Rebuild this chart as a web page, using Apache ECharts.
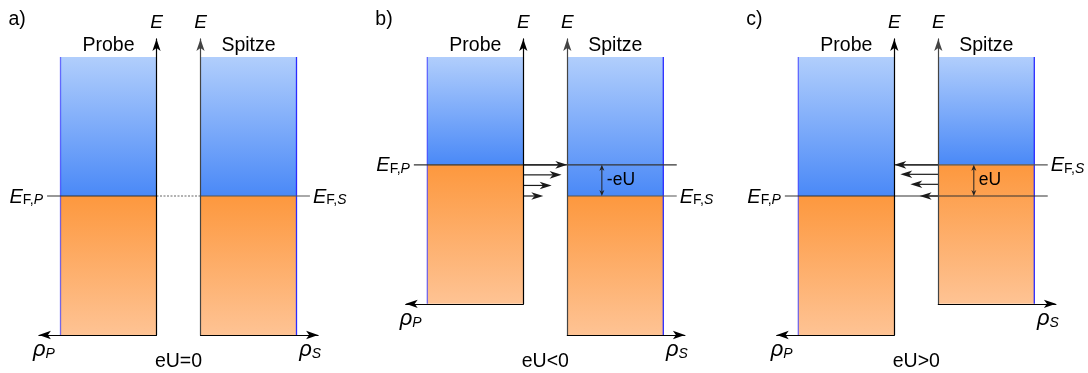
<!DOCTYPE html>
<html><head><meta charset="utf-8">
<script src="https://cdn.jsdelivr.net/npm/echarts@6/dist/echarts.min.js"></script>
<style>html,body{margin:0;padding:0;background:#fff}#c{width:1088px;height:373px}</style>
</head><body><div id="c"></div><script>
// ---------------- data ----------------
const panelLabels = ['a)', 'b)', 'c)'];
const biasCaptions = ['eU=0', 'eU<0', 'eU>0'];
const sideTitles = ['Probe', 'Spitze'];
const fermiProbe = [5, 6.12, 5];          // E_F of sample (Probe)
const fermiTip = [5, 5, 6.12];            // E_F of tip (Spitze)
const bandDepth = 5;                      // occupied states below E_F
const bandTop = 10;                       // upper end of drawn band
const energyMax = 10.65;                  // end of E axes
const densityOfStates = 1;                // constant DOS
const densityMax = 1.225;                 // end of rho axes
const tunnelDirection = [0, 1, -1];       // +1 Probe->Spitze, -1 Spitze->Probe
const tunnelEnergies = [[], [6.12, 5.76, 5.38, 5.0], [6.12, 5.78, 5.42, 5.0]];
const tunnelReach = [[], [1, 0.87, 0.645, 0.455], [1, 0.864, 0.636, 0.425]];
const biasArrowDensity = [null, 0.36, 0.37];
const biasLabels = ['', '-eU', 'eU'];

// ---------------- layout ----------------
const PX_E = 27.8, Y0 = 335, PX_RHO = 96, GAP_PX = 44, LINE_EXT = 0.14;
const probeAxisX = [156.5, 523.3, 894.3];
const gap = GAP_PX / PX_RHO;
const FONT = '"Liberation Sans", Arial, sans-serif';
const ARROW = [6.2, 12];

const blueGrad = () => new echarts.graphic.LinearGradient(0, 0, 0, 1, [
  {offset: 0, color: '#b1cefc'}, {offset: 1, color: '#4a89f7'}]);
const orangeGrad = () => new echarts.graphic.LinearGradient(0, 0, 0, 1, [
  {offset: 0, color: '#fd983e'}, {offset: 1, color: '#fec394'}]);

const subRich = (big, small) => ({
  e: {fontFamily: FONT, fontStyle: 'italic', fontSize: big, fill: '#000', color: '#000', verticalAlign: 'bottom'},
  s: {fontFamily: FONT, fontSize: small, fill: '#000', color: '#000', verticalAlign: 'bottom'},
  i: {fontFamily: FONT, fontStyle: 'italic', fontSize: small, fill: '#000', color: '#000', verticalAlign: 'bottom'}
});

const grids = [], xAxes = [], yAxes = [], series = [], texts = [];

for (let p = 0; p < 3; p++) {
  const bottoms = [fermiProbe[p] - bandDepth, fermiTip[p] - bandDepth];
  const fermis = [fermiProbe[p], fermiTip[p]];
  for (let s = 0; s < 2; s++) {
    const idx = 2 * p + s;
    const w = densityMax * PX_RHO;
    grids.push({
      left: s === 0 ? probeAxisX[p] - w : probeAxisX[p] + GAP_PX,
      width: w,
      top: Y0 - energyMax * PX_E,
      height: (energyMax - bottoms[s]) * PX_E
    });
    xAxes.push({
      gridIndex: idx, type: 'value', min: 0, max: densityMax, inverse: s === 0,
      position: 'bottom', z: 10,
      axisLine: {show: true, onZero: false, symbol: s === 0 ? ['arrow', 'none'] : ['none', 'arrow'],
        symbolSize: ARROW, lineStyle: {color: '#000', width: 1.2}},
      axisTick: {show: false}, axisLabel: {show: false}, splitLine: {show: false},
      name: s === 0 ? '{r|ρ}{i|P}' : '{r|ρ}{i|S}',
      nameLocation: 'end', nameGap: s === 0 ? 6 : 3,
      nameTextStyle: {align: s === 0 ? 'left' : 'right', verticalAlign: 'top', padding: [4, 0, 0, 0],
        rich: {
          r: {fontFamily: FONT, fontStyle: 'italic', fontSize: 22, color: '#000', verticalAlign: 'bottom'},
          i: {fontFamily: FONT, fontStyle: 'italic', fontSize: 14, color: '#000', verticalAlign: 'bottom'}
        }}
    });
    yAxes.push({
      gridIndex: idx, type: 'value', min: bottoms[s], max: energyMax,
      position: s === 0 ? 'right' : 'left', z: 10,
      axisLine: {show: true, onZero: false, symbol: ['none', 'arrow'], symbolSize: ARROW,
        lineStyle: {color: s === 0 ? '#000' : '#444', width: 1.2}},
      axisTick: {show: false}, axisLabel: {show: false}, splitLine: {show: false},
      name: 'E', nameLocation: 'end', nameGap: 16,
      nameTextStyle: {fontFamily: FONT, fontStyle: 'italic', fontSize: 19, color: '#000',
        align: 'center', verticalAlign: 'middle'}
    });
    const title = sideTitles[s];
    const edgeColor = s === 0 ? 'rgba(30,30,255,0.62)' : '#2a2aff';
    series.push({
      type: 'custom', xAxisIndex: idx, yAxisIndex: idx, z: 2,
      data: [[0, densityOfStates, bottoms[s], fermis[s], bandTop]],
      renderItem: function (params, api) {
        const pa = api.coord([api.value(0), api.value(2)]);
        const pb = api.coord([api.value(1), api.value(4)]);
        const yF = api.coord([api.value(0), api.value(3)])[1];
        const xa = Math.min(pa[0], pb[0]), xb = Math.max(pa[0], pb[0]);
        const yb = pa[1], yt = pb[1];
        return {type: 'group', children: [
          {type: 'rect', shape: {x: xa, y: yt, width: xb - xa, height: yF - yt}, style: {fill: blueGrad()}},
          {type: 'rect', shape: {x: xa, y: yF, width: xb - xa, height: yb - yF}, style: {fill: orangeGrad()}},
          {type: 'line', shape: {x1: pb[0], y1: yt, x2: pb[0], y2: yb}, style: {stroke: edgeColor, lineWidth: 1.3}},
          {type: 'text', x: (xa + xb) / 2, y: yt - 11,
            style: {text: title, fontFamily: FONT, fontSize: 19.5, fill: '#000', align: 'center', verticalAlign: 'middle'}}
        ]};
      }
    });
  }

  // ---- overlay (Fermi levels, tunnelling arrows), in the Spitze frame ----
  const X = xp => -gap - xp;          // Probe density -> Spitze frame
  const dir = tunnelDirection[p];
  const rows = [], meta = [];
  rows.push([X(densityOfStates + LINE_EXT), fermiProbe[p],
    dir !== 0 ? densityOfStates + LINE_EXT : X(0), fermiProbe[p]]);
  meta.push({kind: 'fermi', color: '#333', label: '{e|E}{s|F,}{i|P}', at: 'start'});
  rows.push([dir === -1 ? X(0) : 0, fermiTip[p], densityOfStates + LINE_EXT, fermiTip[p]]);
  meta.push({kind: 'fermi', color: '#555', label: '{e|E}{s|F,}{i|S}', at: 'end'});
  if (dir === 0) {
    rows.push([X(0), fermiProbe[p], 0, fermiProbe[p]]);
    meta.push({kind: 'dotted', color: '#666'});
  }
  tunnelEnergies[p].forEach((E, i) => {
    const start = dir === 1 ? X(0) : 0;
    rows.push([start, E, start + dir * gap * tunnelReach[p][i], E]);
    meta.push({kind: 'arrow', color: '#1a1a1a'});
  });
  if (biasArrowDensity[p] != null) {
    rows.push([biasArrowDensity[p], fermiTip[p], biasArrowDensity[p], fermiProbe[p]]);
    meta.push({kind: 'bias', color: '#222', label: biasLabels[p]});
  }
  const frame = 2 * p + 1;
  series.push({
    type: 'custom', xAxisIndex: frame, yAxisIndex: frame, z: 5, clip: false,
    data: rows,
    renderItem: function (params, api) {
      const m = meta[params.dataIndex];
      const a = api.coord([api.value(0), api.value(1)]);
      const b = api.coord([api.value(2), api.value(3)]);
      const ch = [];
      const head = (tip, from, L, W) => {
        const dx = tip[0] - from[0], dy = tip[1] - from[1];
        const len = Math.hypot(dx, dy) || 1;
        const ux = dx / len, uy = dy / len, nx = -uy, ny = ux;
        const bx = tip[0] - ux * L, by = tip[1] - uy * L;
        const notch = [tip[0] - ux * L * 0.72, tip[1] - uy * L * 0.72];
        ch.push({type: 'polygon', shape: {points: [tip, [bx + nx * W, by + ny * W], notch, [bx - nx * W, by - ny * W]]},
          style: {fill: m.color}});
        return notch;
      };
      if (m.kind === 'fermi') {
        ch.push({type: 'line', shape: {x1: a[0], y1: a[1], x2: b[0], y2: b[1]}, style: {stroke: m.color, lineWidth: 1.2}});
        const atStart = m.at === 'start';
        ch.push({type: 'text', x: atStart ? a[0] - 4 : b[0] + 3, y: a[1] + 1,
          style: {text: m.label, rich: subRich(20, 14), align: atStart ? 'right' : 'left', verticalAlign: 'middle'}});
      } else if (m.kind === 'dotted') {
        ch.push({type: 'line', shape: {x1: a[0], y1: a[1], x2: b[0], y2: b[1]},
          style: {stroke: m.color, lineWidth: 1.2, lineDash: [2, 1.5]}});
      } else if (m.kind === 'arrow') {
        const n = head(b, a, 12, 3.8);
        ch.push({type: 'line', shape: {x1: a[0], y1: a[1], x2: n[0], y2: n[1]}, style: {stroke: m.color, lineWidth: 1.2}});
      } else if (m.kind === 'bias') {
        const n1 = head(a, b, 6, 2.5);
        const n2 = head(b, a, 6, 2.5);
        ch.push({type: 'line', shape: {x1: n1[0], y1: n1[1], x2: n2[0], y2: n2[1]}, style: {stroke: m.color, lineWidth: 1}});
        ch.push({type: 'text', x: a[0] + 5, y: (a[1] + b[1]) / 2,
          style: {text: m.label, fontFamily: FONT, fontSize: 17.5, fill: '#000', align: 'left', verticalAlign: 'middle'}});
      }
      return {type: 'group', children: ch};
    }
  });

  texts.push({type: 'text', x: probeAxisX[p] - 148, y: 20,
    style: {text: panelLabels[p], fontFamily: FONT, fontSize: 19.5, fill: '#000', align: 'left', verticalAlign: 'middle'}});
  texts.push({type: 'text', x: probeAxisX[p] + GAP_PX / 2, y: 362,
    style: {text: biasCaptions[p], fontFamily: FONT, fontSize: 19.5, fill: '#000', align: 'center', verticalAlign: 'middle'}});
}

const chart = echarts.init(document.getElementById('c'));
chart.setOption({
  animation: false,
  backgroundColor: '#ffffff',
  grid: grids, xAxis: xAxes, yAxis: yAxes, series: series, graphic: texts
});
</script></body></html>
